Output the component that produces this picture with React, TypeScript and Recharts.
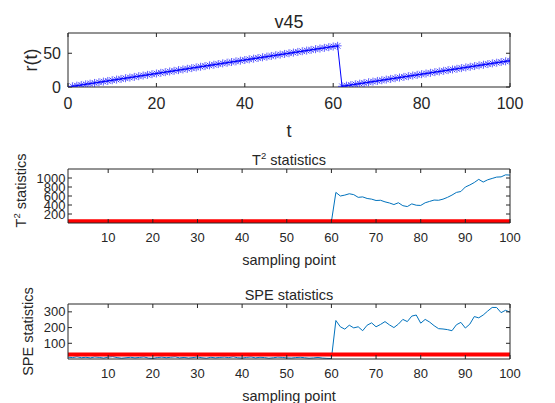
import React from 'react';
import { LineChart, Line, XAxis, YAxis, Label } from 'recharts';

const FONT = '"Liberation Sans", Arial, Helvetica, sans-serif';
const INK = '#262626';
const BLUE = '#0000ff';
const MBLUE = '#0072bd';
const RED = '#ff0000';

// ---- panel 1: v45, r(t) ----
const tValues = [
  1, 2, 3, 4, 5, 6, 7, 8, 9, 10, 11, 12, 13, 14, 15, 16, 17, 18, 19, 20,
  21, 22, 23, 24, 25, 26, 27, 28, 29, 30, 31, 32, 33, 34, 35, 36, 37, 38, 39, 40,
  41, 42, 43, 44, 45, 46, 47, 48, 49, 50, 51, 52, 53, 54, 55, 56, 57, 58, 59, 60,
  61, 62, 63, 64, 65, 66, 67, 68, 69, 70, 71, 72, 73, 74, 75, 76, 77, 78, 79, 80,
  81, 82, 83, 84, 85, 86, 87, 88, 89, 90, 91, 92, 93, 94, 95, 96, 97, 98, 99, 100,
];
const rValues = [
  1, 2, 3, 4, 5, 6, 7, 8, 9, 10, 11, 12, 13, 14, 15, 16, 17, 18, 19, 20,
  21, 22, 23, 24, 25, 26, 27, 28, 29, 30, 31, 32, 33, 34, 35, 36, 37, 38, 39, 40,
  41, 42, 43, 44, 45, 46, 47, 48, 49, 50, 51, 52, 53, 54, 55, 56, 57, 58, 59, 60,
  61, 1, 2, 3, 4, 5, 6, 7, 8, 9, 10, 11, 12, 13, 14, 15, 16, 17, 18, 19,
  20, 21, 22, 23, 24, 25, 26, 27, 28, 29, 30, 31, 32, 33, 34, 35, 36, 37, 38, 39,
];
const topXTicks = [0, 20, 40, 60, 80, 100];
const topYTicks = [0, 50];

// ---- panels 2 & 3: sampling points ----
const samplePoints = tValues;
const t2Values = [
  22, 18, 30, 25, 15, 28, 35, 20, 17, 26, 31, 24, 19, 27, 33, 21, 16, 29, 36, 23,
  18, 25, 30, 20, 14, 27, 32, 22, 19, 28, 34, 24, 17, 21, 30, 26, 15, 23, 29, 35,
  20, 18, 27, 31, 22, 16, 25, 33, 28, 19, 24, 30, 21, 17, 26, 32, 23, 20, 28, 30,
  680, 600, 620, 650, 630, 570, 580, 545, 530, 500, 505, 470, 445, 410, 450, 385, 365, 425, 395, 390,
  450, 480, 510, 505, 530, 570, 620, 680, 700, 800, 845, 900, 970, 910, 960, 990, 1020, 1025, 1070, 1065,
];
const t2Limit = 38;
const speValues = [
  12, 9, 14, 8, 11, 7, 13, 10, 6, 12, 15, 9, 5, 8, 11, 7, 10, 13, 6, 4,
  9, 12, 8, 11, 14, 7, 10, 6, 9, 13, 8, 5, 11, 7, 10, 12, 9, 14, 8, 6,
  10, 13, 7, 11, 9, 5, 8, 12, 10, 7, 6, 9, 11, 8, 5, 7, 10, 6, 4, 3,
  245, 205, 190, 215, 198, 205, 180, 215, 230, 205, 220, 238, 217, 200, 222, 252, 238, 273, 280, 228,
  252, 235, 212, 193, 191, 187, 180, 218, 233, 197, 222, 270, 262, 280, 305, 328, 328, 295, 310, 298,
];
const speLimit = 28;
const sampleTicks = [10, 20, 30, 40, 50, 60, 70, 80, 90, 100];
const t2Ticks = [200, 400, 600, 800, 1000];
const speTicks = [100, 200, 300];

const topRows = tValues.map((t, i) => ({ t, r: rValues[i] }));
const t2Rows = samplePoints.map((p, i) => ({ p, v: t2Values[i], lim: t2Limit }));
const speRows = samplePoints.map((p, i) => ({ p, v: speValues[i], lim: speLimit }));

const W = 555;
const H = 403;
const PLOT_L = 68;
const PLOT_R = 510;

const Asterisk = (props: any) => {
  const { cx, cy, index } = props;
  if (cx == null || cy == null) return <g key={`a-${index}`} />;
  const a = 4;
  const d = 2.9;
  return (
    <g key={`a-${index}`} stroke={BLUE} strokeWidth={0.9} strokeOpacity={0.7}>
      <line x1={cx - a} y1={cy} x2={cx + a} y2={cy} />
      <line x1={cx} y1={cy - a} x2={cx} y2={cy + a} />
      <line x1={cx - d} y1={cy - d} x2={cx + d} y2={cy + d} />
      <line x1={cx - d} y1={cy + d} x2={cx + d} y2={cy - d} />
    </g>
  );
};

const textAt = (x: number, y: number, size: number, content: React.ReactNode, rotate = false) =>
  () => (
    <text
      x={x}
      y={y}
      fontSize={size}
      fontFamily={FONT}
      fill={INK}
      textAnchor="middle"
      transform={rotate ? `rotate(-90 ${x} ${y})` : undefined}
    >
      {content}
    </text>
  );

const hide = () => '';
const noTick = { fontSize: 1, fill: 'none' };
const axisStyle = { stroke: INK, strokeWidth: 1 };

const Layer = ({ children }: { children: React.ReactNode }) => (
  <div style={{ position: 'absolute', left: 0, top: 0, width: W, height: H }}>{children}</div>
);

const T2Text = () => (
  <>
    <tspan>T</tspan>
    <tspan dy={-6} fontSize={9.5}>2</tspan>
    <tspan dy={6}> statistics</tspan>
  </>
);

export default function App() {
  const cx = (PLOT_L + PLOT_R) / 2;
  return (
    <div style={{ position: 'fixed', left: 0, top: 0, width: W, height: H, background: '#fff', overflow: 'hidden' }}>
      {/* Panel 1 */}
      <Layer>
        <LineChart width={W} height={H} data={topRows} margin={{ top: 23, right: 35, bottom: 286, left: 28 }}>
          <XAxis xAxisId="b" dataKey="t" type="number" domain={[0, 100]} ticks={topXTicks} height={30} interval={0}
            tickSize={-4} tickMargin={14.6} axisLine={axisStyle} tickLine={axisStyle}
            tick={{ fontSize: 16, fill: INK, fontFamily: FONT }} allowDataOverflow>
            <Label content={textAt(cx, 136.5, 18, 't')} />
          </XAxis>
          <XAxis xAxisId="t" orientation="top" dataKey="t" type="number" domain={[0, 100]} ticks={topXTicks} height={10} interval={0}
            tickSize={-4} tickFormatter={hide} tick={noTick} axisLine={axisStyle} tickLine={axisStyle} allowDataOverflow>
            <Label content={textAt(cx, 28, 18, 'v45')} />
          </XAxis>
          <YAxis yAxisId="l" type="number" domain={[0, 80]} ticks={topYTicks} width={40} interval={0}
            tickSize={-4} tickMargin={11} axisLine={axisStyle} tickLine={axisStyle}
            tick={{ fontSize: 16, fill: INK, fontFamily: FONT }} allowDataOverflow>
            <Label content={textAt(36.5, 60, 18, 'r(t)', true)} />
          </YAxis>
          <YAxis yAxisId="r" orientation="right" type="number" domain={[0, 80]} ticks={topYTicks} width={10} interval={0}
            tickSize={-4} tickFormatter={hide} tick={noTick} axisLine={axisStyle} tickLine={axisStyle} allowDataOverflow />
          <Line xAxisId="b" yAxisId="l" dataKey="r" stroke={BLUE} strokeWidth={1} dot={Asterisk}
            isAnimationActive={false} />
        </LineChart>
      </Layer>

      {/* Panel 2 */}
      <Layer>
        <LineChart width={W} height={H} data={t2Rows} margin={{ top: 159, right: 35, bottom: 150, left: 28 }}>
          <XAxis xAxisId="b" dataKey="p" type="number" domain={[1, 100]} ticks={sampleTicks} height={30} interval={0}
            tickSize={-4} tickMargin={13.5} axisLine={axisStyle} tickLine={axisStyle}
            tick={{ fontSize: 13, fill: INK, fontFamily: FONT }} allowDataOverflow>
            <Label content={textAt(cx, 264.5, 14.5, 'sampling point')} />
          </XAxis>
          <XAxis xAxisId="t" orientation="top" dataKey="p" type="number" domain={[1, 100]} ticks={sampleTicks} height={10} interval={0}
            tickSize={-4} tickFormatter={hide} tick={noTick} axisLine={axisStyle} tickLine={axisStyle} allowDataOverflow>
            <Label content={textAt(cx, 164.5, 14.5, <T2Text />)} />
          </XAxis>
          <YAxis yAxisId="l" type="number" domain={[0, 1200]} ticks={t2Ticks} width={40} interval={0}
            tickSize={-4} tickMargin={6.5} axisLine={axisStyle} tickLine={axisStyle}
            tick={{ fontSize: 13, fill: INK, fontFamily: FONT }} allowDataOverflow>
            <Label content={textAt(25.5, 190.5, 14.5, <T2Text />, true)} />
          </YAxis>
          <YAxis yAxisId="r" orientation="right" type="number" domain={[0, 1200]} ticks={t2Ticks} width={10} interval={0}
            tickSize={-4} tickFormatter={hide} tick={noTick} axisLine={axisStyle} tickLine={axisStyle} allowDataOverflow />
          <Line xAxisId="b" yAxisId="l" dataKey="v" stroke={MBLUE} strokeWidth={1} dot={false} isAnimationActive={false} />
          <Line xAxisId="b" yAxisId="l" dataKey="lim" stroke={RED} strokeWidth={4} dot={false} isAnimationActive={false} />
        </LineChart>
      </Layer>

      {/* Panel 3 */}
      <Layer>
        <LineChart width={W} height={H} data={speRows} margin={{ top: 294, right: 35, bottom: 14, left: 28 }}>
          <XAxis xAxisId="b" dataKey="p" type="number" domain={[1, 100]} ticks={sampleTicks} height={30} interval={0}
            tickSize={-4} tickMargin={13.8} axisLine={axisStyle} tickLine={axisStyle}
            tick={{ fontSize: 13, fill: INK, fontFamily: FONT }} allowDataOverflow>
            <Label content={textAt(cx, 401, 14.5, 'sampling point')} />
          </XAxis>
          <XAxis xAxisId="t" orientation="top" dataKey="p" type="number" domain={[1, 100]} ticks={sampleTicks} height={10} interval={0}
            tickSize={-4} tickFormatter={hide} tick={noTick} axisLine={axisStyle} tickLine={axisStyle} allowDataOverflow>
            <Label content={textAt(cx, 300, 14.5, 'SPE statistics')} />
          </XAxis>
          <YAxis yAxisId="l" type="number" domain={[0, 350]} ticks={speTicks} width={40} interval={0}
            tickSize={-4} tickMargin={6.5} axisLine={axisStyle} tickLine={axisStyle}
            tick={{ fontSize: 13, fill: INK, fontFamily: FONT }} allowDataOverflow>
            <Label content={textAt(33, 331.5, 14.5, 'SPE statistics', true)} />
          </YAxis>
          <YAxis yAxisId="r" orientation="right" type="number" domain={[0, 350]} ticks={speTicks} width={10} interval={0}
            tickSize={-4} tickFormatter={hide} tick={noTick} axisLine={axisStyle} tickLine={axisStyle} allowDataOverflow />
          <Line xAxisId="b" yAxisId="l" dataKey="v" stroke={MBLUE} strokeWidth={1} dot={false} isAnimationActive={false} />
          <Line xAxisId="b" yAxisId="l" dataKey="lim" stroke={RED} strokeWidth={4} dot={false} isAnimationActive={false} />
        </LineChart>
      </Layer>
    </div>
  );
}
